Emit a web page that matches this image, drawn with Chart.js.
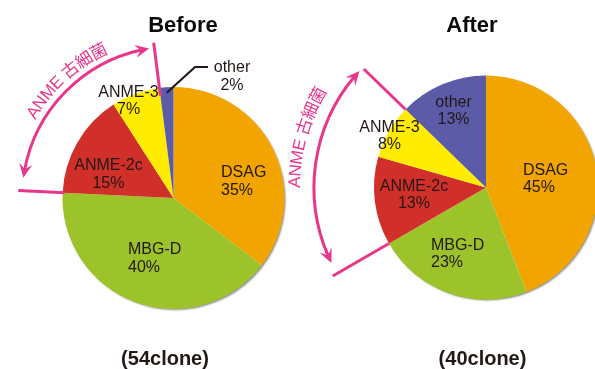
<!DOCTYPE html>
<html>
<head>
<meta charset="utf-8">
<script src="https://cdn.jsdelivr.net/npm/chart.js@4/dist/chart.umd.min.js"></script>
<style>
  html, body { margin: 0; padding: 0; background: #fff; }
  #wrap { position: relative; width: 595px; height: 369px; overflow: hidden; }
  canvas { position: absolute; top: 0; }
</style>
</head>
<body>
<div id="wrap">
  <canvas id="before" width="320" height="369" style="left:0px"></canvas>
  <canvas id="after" width="340" height="369" style="left:270px"></canvas>
</div>
<script>
// Community composition (% of clones), clockwise from 12 o'clock
const categories   = ['DSAG', 'MBG-D', 'ANME-2c', 'ANME-3', 'other'];
const beforeValues = [35, 40, 15, 7, 2];
const afterValues  = [45, 23, 13, 8, 13];
const panelTitles  = ['Before', 'After'];
const cloneLabels  = ['(54clone)', '(40clone)'];
const groupLabel   = 'ANME 古細菌';

const sliceColors = ['#F2A500', '#9DC32A', '#D12F29', '#FFEC00', '#5C5BA8'];
const pink = '#E8368D';
const ink = '#231815';
const labelFont = '16px "Liberation Sans", Arial, sans-serif';
const arcTextFont = '17px "Liberation Sans", Arial, "Noto Sans CJK JP", sans-serif';

const rad = d => d * Math.PI / 180;

function drawArrowHead(ctx, x, y, dir) {
  ctx.save();
  ctx.translate(x, y);
  ctx.rotate(dir);
  ctx.beginPath();
  ctx.moveTo(0, 0);
  ctx.lineTo(-14, -6.5);
  ctx.lineTo(-8.5, 0);
  ctx.lineTo(-14, 6.5);
  ctx.closePath();
  ctx.fill();
  ctx.restore();
}

function decor(values, cfg) {
  return {
    id: 'pieDecor',
    beforeDatasetsDraw(chart) {
      const a = chart.getDatasetMeta(0).data[0];
      const ctx = chart.ctx;
      ctx.save();
      ctx.shadowColor = 'rgba(0,0,0,0.45)';
      ctx.shadowBlur = 2;
      ctx.shadowOffsetX = 1.5;
      ctx.shadowOffsetY = 1.5;
      ctx.fillStyle = '#fff';
      ctx.beginPath();
      ctx.arc(a.x, a.y, a.outerRadius - 0.5, 0, Math.PI * 2);
      ctx.fill();
      ctx.restore();
    },
    afterDatasetsDraw(chart) {
      const arcs = chart.getDatasetMeta(0).data;
      const ctx = chart.ctx;
      const cx = arcs[0].x, cy = arcs[0].y, R = arcs[0].outerRadius;
      const pt = (ang, r) => [cx + r * Math.cos(ang), cy + r * Math.sin(ang)];

      // slice labels: name + percentage
      ctx.save();
      ctx.font = labelFont;
      ctx.fillStyle = ink;
      ctx.textBaseline = 'alphabetic';
      cfg.labelPos.forEach((p, i) => {
        ctx.textAlign = p[2];
        const x = cx + p[0] * R, y = cy + p[1] * R;
        ctx.fillText(categories[i], x, y);
        ctx.fillText(values[i] + '%', x, y + 17.5);
      });
      ctx.restore();

      // leader line for a label placed outside the pie
      if (cfg.leader) {
        const L = cfg.leader;
        const s = arcs[L.index];
        const mid = (s.startAngle + s.endAngle) / 2;
        const [sx, sy] = pt(mid, L.r0 * R);
        ctx.save();
        ctx.strokeStyle = ink;
        ctx.lineWidth = 2.2;
        ctx.lineJoin = 'miter';
        ctx.beginPath();
        ctx.moveTo(sx, sy);
        ctx.lineTo(cx + L.elbow[0] * R, cy + L.elbow[1] * R);
        ctx.lineTo(cx + L.end[0] * R, cy + L.end[1] * R);
        ctx.stroke();
        ctx.restore();
      }

      // bracket around the ANME slices
      const A = cfg.bracket;
      const a1 = arcs[A.from].endAngle;   // lower boundary
      const a2 = arcs[A.to].endAngle;     // upper boundary
      ctx.save();
      ctx.strokeStyle = pink;
      ctx.fillStyle = pink;
      ctx.lineWidth = 3;
      [[a1, A.lineLo], [a2, A.lineHi]].forEach(([ang, span]) => {
        const [x0, y0] = pt(ang, span[0] * R);
        const [x1, y1] = pt(ang, span[1] * R);
        ctx.beginPath();
        ctx.moveTo(x0, y0);
        ctx.lineTo(x1, y1);
        ctx.stroke();
      });
      const rA = A.arcR * R;
      const s1 = a1 + rad(A.gapLo), s2 = a2 - rad(A.gapHi);
      ctx.beginPath();
      ctx.arc(cx, cy, rA, s1 + 8 / rA, s2 - 8 / rA);
      ctx.stroke();
      const [t1x, t1y] = pt(s1, rA);
      const [t2x, t2y] = pt(s2, rA);
      drawArrowHead(ctx, t1x, t1y, s1 - Math.PI / 2 + 6 / rA);
      drawArrowHead(ctx, t2x, t2y, s2 + Math.PI / 2 - 6 / rA);

      // curved caption following the bracket
      ctx.font = arcTextFont;
      ctx.textAlign = 'center';
      ctx.textBaseline = 'alphabetic';
      const rb = A.textR * R;
      const rm = rb + 6;
      const chars = Array.from(groupLabel);
      const widths = chars.map(c => ctx.measureText(c).width);
      const total = widths.reduce((s, w) => s + w, 0);
      const midAng = (a1 + a2) / 2 + rad(A.textShift);
      let acc = 0;
      chars.forEach((c, i) => {
        const ang = midAng - total / (2 * rm) + (acc + widths[i] / 2) / rm;
        acc += widths[i];
        const [x, y] = pt(ang, rb);
        ctx.save();
        ctx.translate(x, y);
        ctx.rotate(ang + Math.PI / 2);
        ctx.fillText(c, 0, 0);
        ctx.restore();
      });
      ctx.restore();
    },
    afterDraw(chart) {
      const ctx = chart.ctx;
      ctx.save();
      ctx.fillStyle = '#0a0a0a';
      ctx.textAlign = 'center';
      ctx.textBaseline = 'alphabetic';
      ctx.font = 'bold 22px "Liberation Sans", Arial, sans-serif';
      ctx.fillText(cfg.title, cfg.titleXY[0], cfg.titleXY[1]);
      ctx.fillStyle = '#231815';
      ctx.font = 'bold 20px "Liberation Sans", Arial, sans-serif';
      ctx.fillText(cfg.footer, cfg.footerXY[0], cfg.footerXY[1]);
      ctx.restore();
    }
  };
}

function makePie(id, values, cfg) {
  return new Chart(document.getElementById(id), {
    type: 'pie',
    data: {
      labels: categories,
      datasets: [{ data: values, backgroundColor: sliceColors, borderWidth: 0 }]
    },
    options: {
      responsive: false,
      animation: false,
      devicePixelRatio: 1,
      events: [],
      layout: { padding: cfg.padding },
      plugins: { legend: { display: false }, tooltip: { enabled: false } }
    },
    plugins: [decor(values, cfg)]
  });
}

makePie('before', beforeValues, {
  padding: { left: 62.5, right: 35.5, top: 87, bottom: 60 },
  title: panelTitles[0], titleXY: [183, 32],
  footer: cloneLabels[0], footerXY: [165, 365],
  labelPos: [
    [0.428, -0.189, 'left'],
    [-0.41, 0.505, 'left'],
    [-0.586, -0.252, 'center'],
    [-0.405, -0.91, 'center'],
    [0.527, -1.135, 'center']
  ],
  leader: { index: 4, r0: 0.95, elbow: [0.194, -1.18], end: [0.311, -1.18] },
  bracket: { from: 1, to: 3, lineLo: [0.98, 1.4], lineHi: [0.93, 1.41],
             arcR: 1.365, gapLo: 5, gapHi: 2, textR: 1.43, textShift: 5 }
});

makePie('after', afterValues, {
  padding: { left: 104, right: 12, top: 75.5, bottom: 69.5 },
  title: panelTitles[1], titleXY: [202, 32],
  footer: cloneLabels[1], footerXY: [212.5, 365],
  labelPos: [
    [0.33, -0.112, 'left'],
    [-0.491, 0.558, 'left'],
    [-0.643, 0.031, 'center'],
    [-0.862, -0.496, 'center'],
    [-0.29, -0.719, 'center']
  ],
  leader: null,
  bracket: { from: 1, to: 3, lineLo: [1.0, 1.58], lineHi: [1.0, 1.52],
             arcR: 1.536, gapLo: 4, gapHi: 1.5, textR: 1.66, textShift: 8.5 }
});
</script>
</body>
</html>
